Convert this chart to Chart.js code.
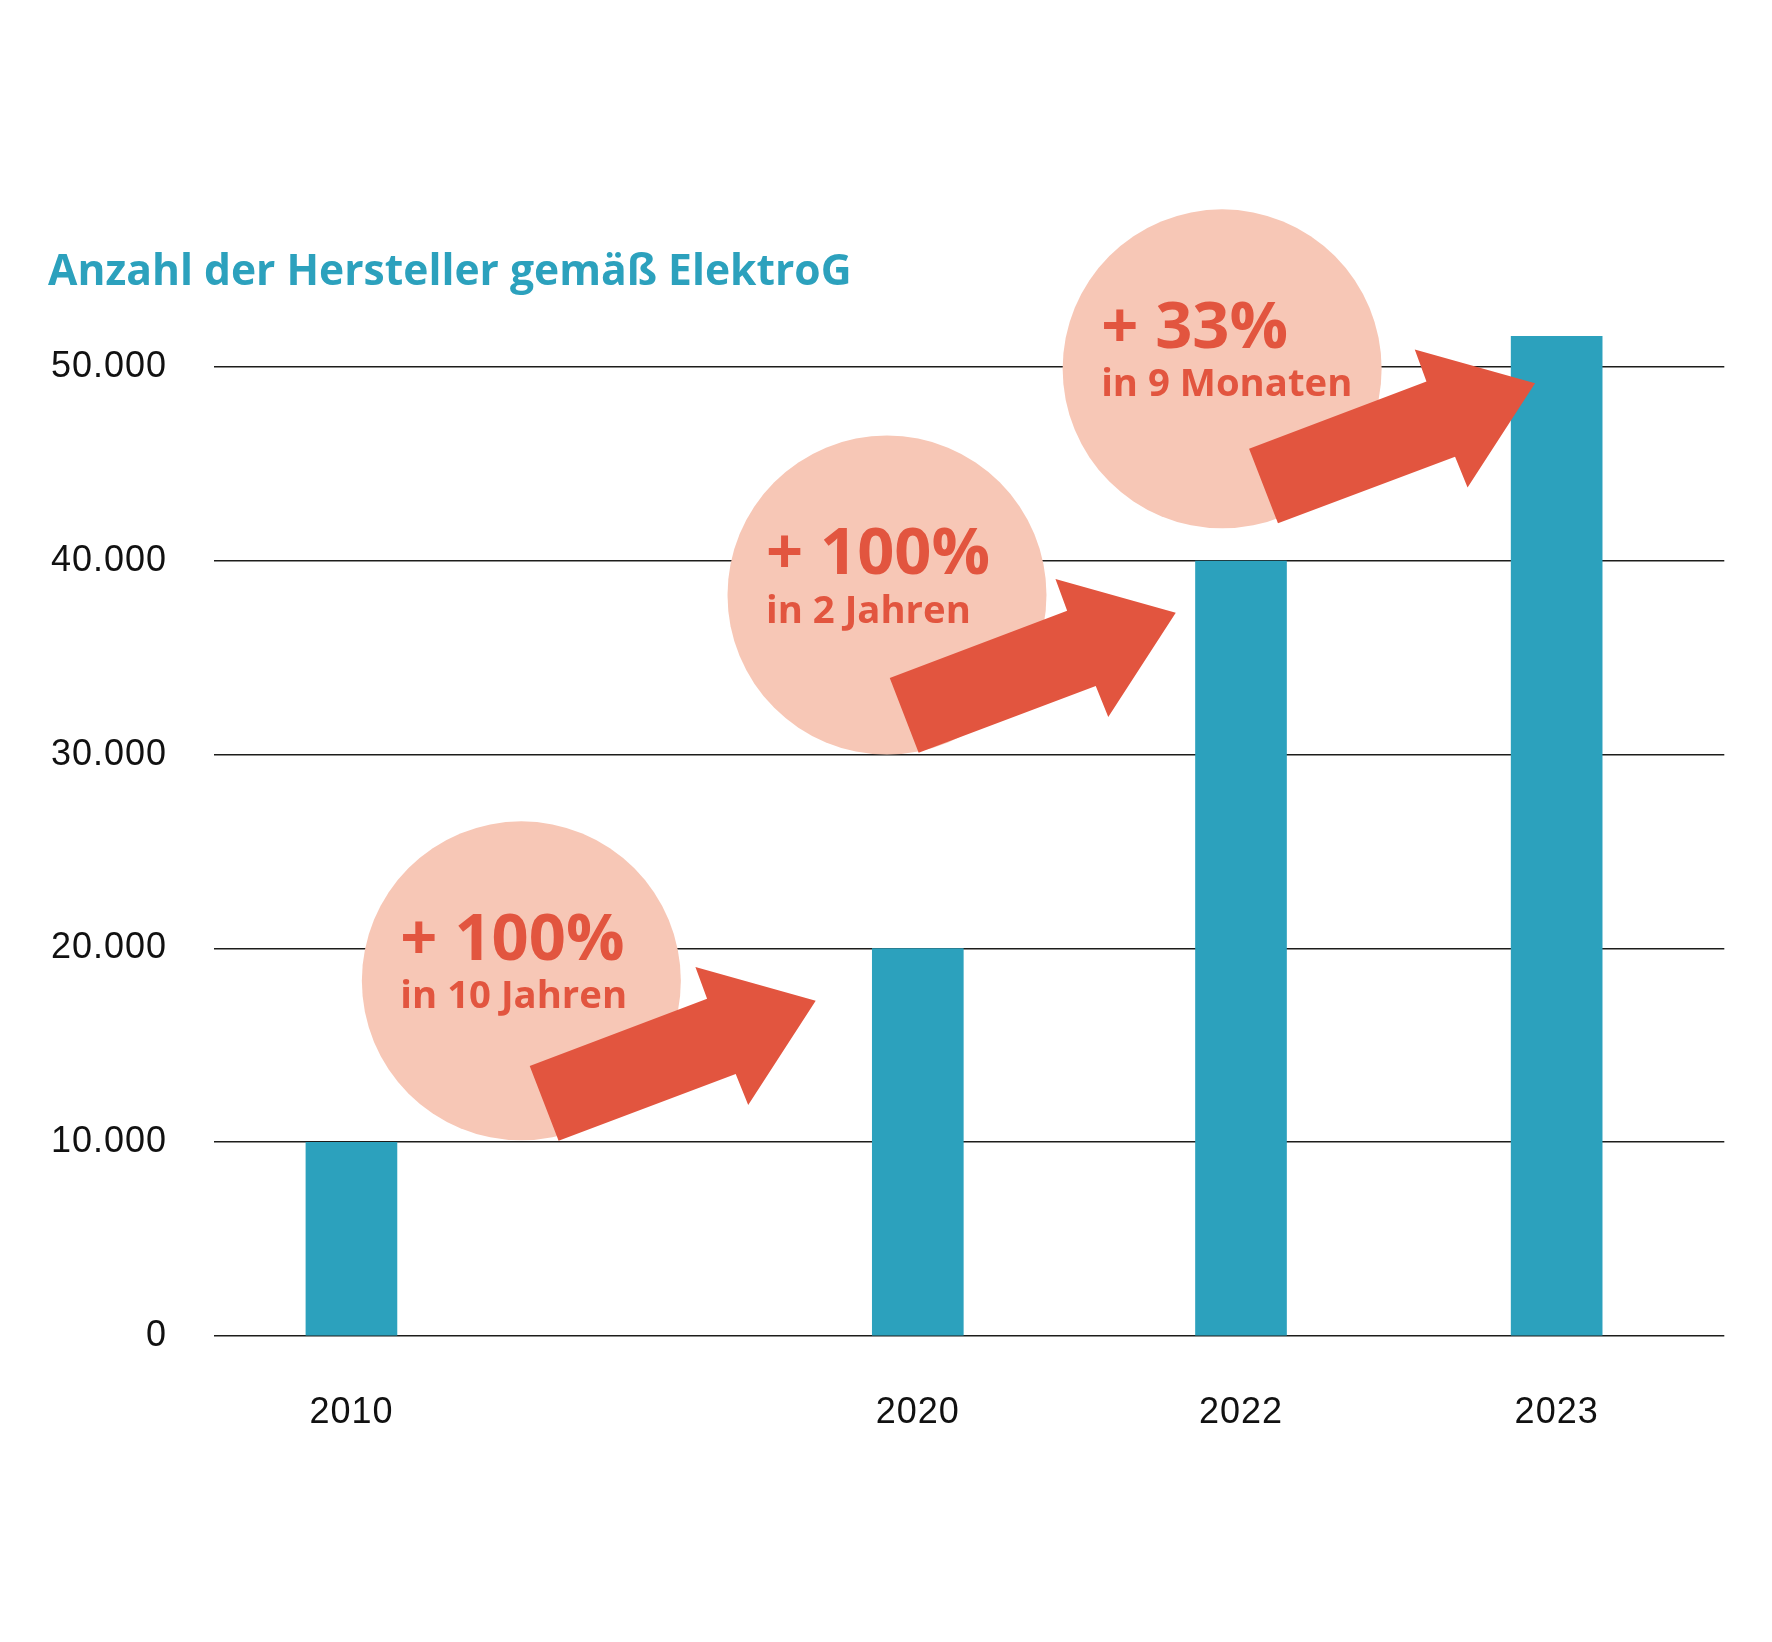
<!DOCTYPE html>
<html lang="de">
<head>
<meta charset="utf-8">
<title>Anzahl der Hersteller gemäß ElektroG</title>
<script src="https://cdn.jsdelivr.net/npm/chart.js@4.4.1/dist/chart.umd.min.js"></script>
<style>
  html, body { margin: 0; padding: 0; background: #fff; }
  canvas { display: block; }
</style>
</head>
<body>
<canvas id="chart" width="1772" height="1642"></canvas>
<script>
'use strict';

// ─── Data ─────────────────────────────────────────────────────────────────────

const YEARS     = ['2010', '2020', '2022', '2023'];
const X_SLOTS   = [0.91, 4.66, 6.80, 8.89];          // where each year sits on a 0–10 axis
const PRODUCERS = [10000, 20000, 40000, 51600];
const Y_TICKS   = [0, 10000, 20000, 30000, 40000, 50000];

const GROWTH_BIG   = ['+ 100%', '+ 100%', '+ 33%'];
const GROWTH_SMALL = ['in 10 Jahren', 'in 2 Jahren', 'in 9 Monaten'];

// ─── Styling ──────────────────────────────────────────────────────────────────

const TEAL  = '#2ca1bd';
const PEACH = '#f7c7b6';
const RED   = '#e2553f';
const INK   = '#1d1d1b';

const TICK_FONT  = { family: "'Liberation Sans', Arial, sans-serif", size: 36 };
const LABEL_FONT = "'Open Sans', 'Noto Sans', sans-serif";

// callout anchors in axis units (x slot, y value)
const CALLOUTS = [
  { circle: [2.035, 18330], tip: [3.984, 17306] },
  { circle: [4.456, 38245], tip: [6.368, 37332] },
  { circle: [6.675, 49920], tip: [8.747, 49171] },
];

// arrow outline, pixels relative to its tip
const ARROW = [
  [0, 0], [-67.5, 104.2], [-80, 73.3], [-257.1, 140],
  [-286, 65.3], [-108.6, -1.9], [-120.3, -33.8],
];

const fmtThousands = v => String(v).replace(/\B(?=(\d{3})+(?!\d))/g, '.');

// ─── Plugins ──────────────────────────────────────────────────────────────────

// slightly wider tick lettering, like the original typeface
const spacingPlugin = {
  id: 'spacing',
  beforeDraw(chart) { chart.ctx.letterSpacing = '1px'; },
};

const calloutPlugin = {
  id: 'callouts',
  afterDraw(chart) {
    const { ctx, scales: { x, y } } = chart;
    ctx.save();
    ctx.letterSpacing = '0px';

    // title
    ctx.fillStyle = TEAL;
    ctx.font = `bold 42.6px ${LABEL_FONT}`;
    ctx.textAlign = 'left';
    ctx.textBaseline = 'alphabetic';
    ctx.fillText('Anzahl der Hersteller gemäß ElektroG', 48, 285);

    CALLOUTS.forEach((c, i) => {
      const cx = x.getPixelForValue(c.circle[0]);
      const cy = y.getPixelForValue(c.circle[1]);
      const tx = x.getPixelForValue(c.tip[0]);
      const ty = y.getPixelForValue(c.tip[1]);

      ctx.fillStyle = PEACH;
      ctx.beginPath();
      ctx.arc(cx, cy, 159.5, 0, Math.PI * 2);
      ctx.fill();

      ctx.fillStyle = RED;
      ctx.beginPath();
      ARROW.forEach(([dx, dy], k) => k ? ctx.lineTo(tx + dx, ty + dy) : ctx.moveTo(tx + dx, ty + dy));
      ctx.closePath();
      ctx.fill();

      ctx.font = `bold 65px ${LABEL_FONT}`;
      ctx.fillText(GROWTH_BIG[i], cx - 121, cy - 21);
      ctx.font = `bold 38.3px ${LABEL_FONT}`;
      ctx.fillText(GROWTH_SMALL[i], cx - 121, cy + 27.5);
    });

    ctx.restore();
  },
};

// ─── Chart ────────────────────────────────────────────────────────────────────

function buildChart(ctx) {
  return new Chart(ctx, {
    type: 'bar',
    data: {
      datasets: [{
        label: 'Hersteller',
        data: X_SLOTS.map((x, i) => ({ x, y: PRODUCERS[i] })),
        backgroundColor: TEAL,
        borderWidth: 0,
        barThickness: 91,
      }],
    },
    options: {
      animation: false,
      responsive: false,
      layout: { padding: { top: 270.4, right: 47.7, bottom: 0, left: 0 } },
      plugins: {
        legend: { display: false },
        tooltip: { enabled: false },
      },
      scales: {
        x: {
          type: 'linear',
          min: 0,
          max: 10,
          offset: false,
          grid: { display: false, drawTicks: false, offset: false },
          border: { display: false },
          afterBuildTicks: axis => { axis.ticks = X_SLOTS.map(v => ({ value: v })); },
          afterFit: axis => { axis.height = 306; },
          ticks: {
            autoSkip: false,
            maxRotation: 0,
            padding: 55,
            color: '#111',
            font: TICK_FONT,
            callback: (v, i) => YEARS[i],
          },
        },
        y: {
          min: 0,
          max: 55000,
          z: 1,
          grid: { color: INK, lineWidth: 1.6, drawTicks: false },
          border: { display: false },
          afterBuildTicks: axis => { axis.ticks = Y_TICKS.map(v => ({ value: v })); },
          afterFit: axis => { axis.width = 214; },
          ticks: {
            padding: 47,
            color: '#111',
            font: TICK_FONT,
            callback: v => fmtThousands(v),
          },
        },
      },
    },
    plugins: [spacingPlugin, calloutPlugin],
  });
}

document.fonts.load(`bold 42px 'Open Sans'`).finally(() => {
  buildChart(document.getElementById('chart').getContext('2d'));
});
</script>
</body>
</html>
